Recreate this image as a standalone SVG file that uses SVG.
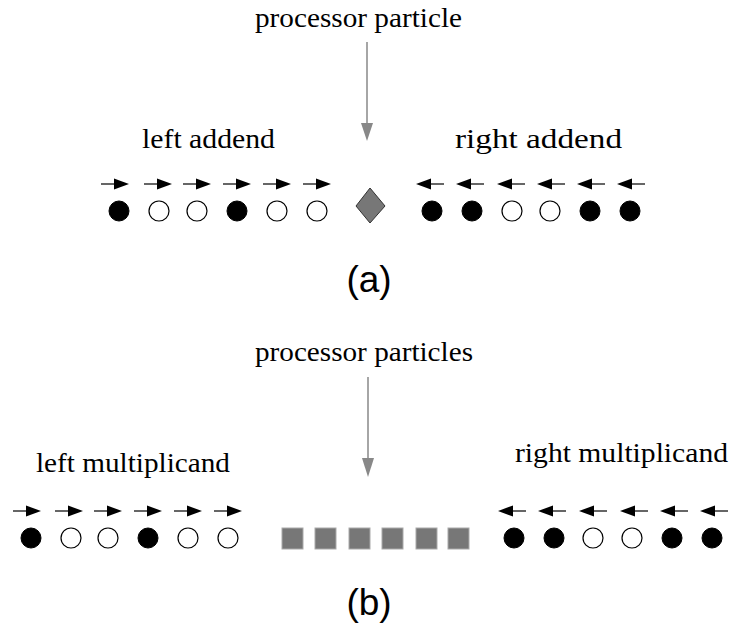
<svg xmlns="http://www.w3.org/2000/svg" width="730" height="636" viewBox="0 0 730 636">
<style>
.lbl{font-family:"Liberation Serif","DejaVu Serif",serif;font-size:27px;fill:#000}
.cap{font-family:"Liberation Sans","DejaVu Sans",sans-serif;font-size:37px;fill:#000;text-anchor:middle}
.blk{fill:#000;stroke:#000;stroke-width:1}
.wht{fill:#fff;stroke:#000;stroke-width:1.2}
.dir{stroke:#333;stroke-width:1.5;fill:none}
.hd{fill:#000}
.ptr{stroke:#888;stroke-width:1.5;fill:none}
.ghd{fill:#888}
.sq{fill:#777;stroke:#aaa;stroke-width:1}
</style>
<defs>
<path id="R" d="M-28,0 L-12,0"/>
<polygon id="RH" points="-15,-5.5 0,0 -15,5.5"/>
<path id="L" d="M28,0 L12,0"/>
<polygon id="LH" points="15,-5.5 0,0 15,5.5"/>
</defs>
<rect width="730" height="636" fill="#fff"/>

<!-- Part (a) -->
<g id="label-processor-a"><text class="lbl" x="255" y="27" textLength="207" lengthAdjust="spacingAndGlyphs">processor particle</text></g>
<g id="label-left-addend"><text class="lbl" x="142" y="148" textLength="133" lengthAdjust="spacingAndGlyphs">left addend</text></g>
<g id="label-right-addend"><text class="lbl" x="455" y="148" textLength="167" lengthAdjust="spacingAndGlyphs">right addend</text></g>
<g id="caption-a"><text class="cap" x="369" y="292">(a)</text></g>

<g id="left-addend">
<circle class="blk" cx="119" cy="211" r="10"/>
<circle class="wht" cx="159" cy="211" r="10"/>
<circle class="wht" cx="197" cy="211" r="10"/>
<circle class="blk" cx="237" cy="211" r="10"/>
<circle class="wht" cx="277" cy="211" r="10"/>
<circle class="wht" cx="317" cy="211" r="10"/>
</g>
<g id="processor-a">
<polygon points="370,188 385,206 370,223 356,206" fill="#777" stroke="#333" stroke-width="1"/>
</g>
<g id="right-addend">
<circle class="blk" cx="432" cy="211" r="10"/>
<circle class="blk" cx="472" cy="211" r="10"/>
<circle class="wht" cx="512" cy="211" r="10"/>
<circle class="wht" cx="550" cy="211" r="10"/>
<circle class="blk" cx="590" cy="211" r="10"/>
<circle class="blk" cx="630" cy="211" r="10"/>
</g>

<!-- Part (b) -->
<g id="label-processor-b"><text class="lbl" x="255" y="361" textLength="218" lengthAdjust="spacingAndGlyphs">processor particles</text></g>
<g id="label-left-mult"><text class="lbl" x="36" y="472" textLength="194" lengthAdjust="spacingAndGlyphs">left multiplicand</text></g>
<g id="label-right-mult"><text class="lbl" x="515" y="462" textLength="213" lengthAdjust="spacingAndGlyphs">right multiplicand</text></g>
<g id="caption-b"><text class="cap" x="369" y="615">(b)</text></g>

<g id="left-mult">
<circle class="blk" cx="31" cy="538" r="10"/>
<circle class="wht" cx="71" cy="538" r="10"/>
<circle class="wht" cx="108" cy="538" r="10"/>
<circle class="blk" cx="148" cy="538" r="10"/>
<circle class="wht" cx="188" cy="538" r="10"/>
<circle class="wht" cx="228" cy="538" r="10"/>
</g>
<g id="processors-b">
<rect class="sq" x="282" y="528" width="21" height="21"/>
<rect class="sq" x="315" y="528" width="21" height="21"/>
<rect class="sq" x="349" y="528" width="21" height="21"/>
<rect class="sq" x="382" y="528" width="21" height="21"/>
<rect class="sq" x="416" y="528" width="21" height="21"/>
<rect class="sq" x="448" y="528" width="21" height="21"/>
</g>
<g id="right-mult">
<circle class="blk" cx="514" cy="538" r="10"/>
<circle class="blk" cx="554" cy="538" r="10"/>
<circle class="wht" cx="593" cy="538" r="10"/>
<circle class="wht" cx="632" cy="538" r="10"/>
<circle class="blk" cx="672" cy="538" r="10"/>
<circle class="blk" cx="712" cy="538" r="10"/>
</g>

<g id="connectors">
<line class="ptr" x1="367" y1="42" x2="367" y2="125"/>
<polygon class="ghd" points="361,123 373,123 367,141"/>
<line class="ptr" x1="368" y1="377" x2="368" y2="460"/>
<polygon class="ghd" points="362,458 374,458 368,477"/>

<!-- (a) right-pointing, tips -->
<g transform="translate(129,184)"><use href="#R" class="dir"/><use href="#RH" class="hd"/></g>
<g transform="translate(172,184)"><use href="#R" class="dir"/><use href="#RH" class="hd"/></g>
<g transform="translate(211,184)"><use href="#R" class="dir"/><use href="#RH" class="hd"/></g>
<g transform="translate(251,184)"><use href="#R" class="dir"/><use href="#RH" class="hd"/></g>
<g transform="translate(291,184)"><use href="#R" class="dir"/><use href="#RH" class="hd"/></g>
<g transform="translate(331,184)"><use href="#R" class="dir"/><use href="#RH" class="hd"/></g>
<!-- (a) left-pointing -->
<g transform="translate(416,184)"><use href="#L" class="dir"/><use href="#LH" class="hd"/></g>
<g transform="translate(456,184)"><use href="#L" class="dir"/><use href="#LH" class="hd"/></g>
<g transform="translate(497,184)"><use href="#L" class="dir"/><use href="#LH" class="hd"/></g>
<g transform="translate(537,184)"><use href="#L" class="dir"/><use href="#LH" class="hd"/></g>
<g transform="translate(577,184)"><use href="#L" class="dir"/><use href="#LH" class="hd"/></g>
<g transform="translate(617,184)"><use href="#L" class="dir"/><use href="#LH" class="hd"/></g>
<!-- (b) right-pointing -->
<g transform="translate(41,511)"><use href="#R" class="dir"/><use href="#RH" class="hd"/></g>
<g transform="translate(83,511)"><use href="#R" class="dir"/><use href="#RH" class="hd"/></g>
<g transform="translate(122,511)"><use href="#R" class="dir"/><use href="#RH" class="hd"/></g>
<g transform="translate(162,511)"><use href="#R" class="dir"/><use href="#RH" class="hd"/></g>
<g transform="translate(202,511)"><use href="#R" class="dir"/><use href="#RH" class="hd"/></g>
<g transform="translate(242,511)"><use href="#R" class="dir"/><use href="#RH" class="hd"/></g>
<!-- (b) left-pointing -->
<g transform="translate(498,511)"><use href="#L" class="dir"/><use href="#LH" class="hd"/></g>
<g transform="translate(538,511)"><use href="#L" class="dir"/><use href="#LH" class="hd"/></g>
<g transform="translate(579,511)"><use href="#L" class="dir"/><use href="#LH" class="hd"/></g>
<g transform="translate(620,511)"><use href="#L" class="dir"/><use href="#LH" class="hd"/></g>
<g transform="translate(660,511)"><use href="#L" class="dir"/><use href="#LH" class="hd"/></g>
<g transform="translate(700,511)"><use href="#L" class="dir"/><use href="#LH" class="hd"/></g>
</g>
</svg>
